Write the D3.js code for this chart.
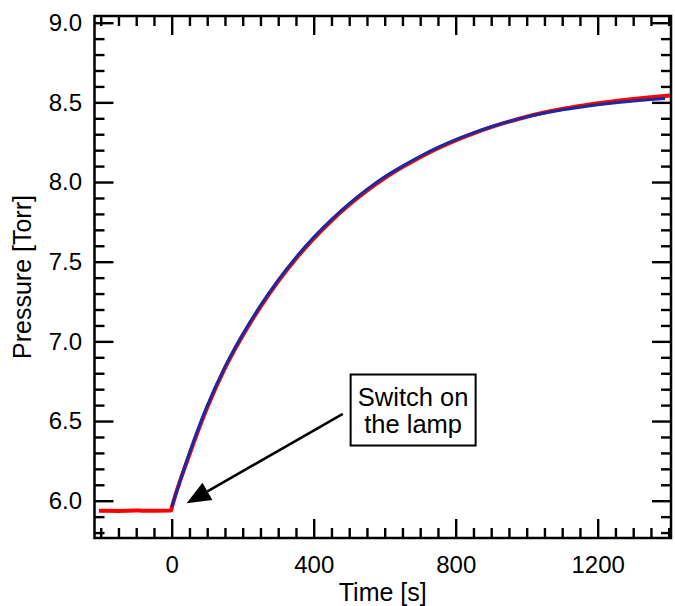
<!DOCTYPE html>
<html>
<head>
<meta charset="utf-8">
<script src="https://cdn.jsdelivr.net/npm/d3@7"></script>
<style>
  body { margin: 0; background: #fff; }
  svg text { font-family: "Liberation Sans", Arial, Helvetica, sans-serif; }
</style>
</head>
<body>
<svg id="chart" width="675" height="606"></svg>
<script>
// Measured pressure (red) - before and after the lamp is switched on
const dataTime = [-205, -150, -100, -50, -2, 0, 50, 100, 150, 200, 250, 300, 350, 400, 450, 500, 550, 600, 650, 700, 750, 800, 850, 900, 950, 1000, 1050, 1100, 1150, 1200, 1250, 1300, 1350, 1404];
const dataPressure = [5.937, 5.936, 5.938, 5.937, 5.938, 5.955, 6.29, 6.585, 6.832, 7.037, 7.217, 7.377, 7.519, 7.645, 7.757, 7.857, 7.946, 8.025, 8.094, 8.156, 8.212, 8.262, 8.306, 8.345, 8.379, 8.41, 8.436, 8.458, 8.477, 8.494, 8.508, 8.521, 8.532, 8.543];

// Fitted curve (blue)
const fitTime = [0, 50, 100, 150, 200, 250, 300, 350, 400, 450, 500, 550, 600, 650, 700, 750, 800, 850, 900, 950, 1000, 1050, 1100, 1150, 1200, 1250, 1300, 1350, 1390];
const fitPressure = [5.96, 6.30, 6.595, 6.84, 7.045, 7.225, 7.385, 7.527, 7.653, 7.765, 7.865, 7.954, 8.033, 8.10, 8.162, 8.217, 8.266, 8.309, 8.347, 8.38, 8.409, 8.433, 8.453, 8.47, 8.485, 8.498, 8.509, 8.518, 8.524];

// tick labels
const xTicks = [0, 400, 800, 1200];
const yTicks = [6.0, 6.5, 7.0, 7.5, 8.0, 8.5, 9.0];

const svg = d3.select("#chart");
const plotLeft = 94.5, plotRight = 671, plotTop = 16, plotBottom = 538;

const x = d3.scaleLinear().domain([-217.5, 1406.5]).range([plotLeft, plotRight]);
const y = d3.scaleLinear().domain([5.766, 9.042]).range([plotBottom, plotTop]);

const xMinor = d3.range(-200, 1401, 50).filter(d => !xTicks.includes(d));
const yMinor = d3.range(58, 91).map(d => d / 10).filter(d => !yTicks.includes(d));

// axes (ticks point inward, all four sides)
function styleAxis(g) {
  g.select(".domain").remove();
  g.selectAll(".tick line").attr("stroke", "#000").attr("stroke-width", 2.4);
  g.selectAll(".tick text").attr("fill", "#000").style("font-size", "24px");
}

svg.append("g").attr("transform", "translate(0," + plotBottom + ")")
  .call(d3.axisBottom(x).tickValues(xMinor).tickSize(-10).tickFormat("")).call(styleAxis);
svg.append("g").attr("transform", "translate(0," + plotBottom + ")")
  .call(d3.axisBottom(x).tickValues(xTicks).tickSize(-19).tickPadding(18).tickFormat(d3.format("d"))).call(styleAxis);
svg.append("g").attr("transform", "translate(0," + plotTop + ")")
  .call(d3.axisTop(x).tickValues(xMinor).tickSize(-10).tickFormat("")).call(styleAxis);
svg.append("g").attr("transform", "translate(0," + plotTop + ")")
  .call(d3.axisTop(x).tickValues(xTicks).tickSize(-19).tickFormat("")).call(styleAxis);

svg.append("g").attr("transform", "translate(" + plotLeft + ",0)")
  .call(d3.axisLeft(y).tickValues(yMinor).tickSize(-10).tickFormat("")).call(styleAxis);
svg.append("g").attr("transform", "translate(" + plotLeft + ",0)")
  .call(d3.axisLeft(y).tickValues(yTicks).tickSize(-19).tickPadding(12.5).tickFormat(d3.format(".1f"))).call(styleAxis);
svg.append("g").attr("transform", "translate(" + plotRight + ",0)")
  .call(d3.axisRight(y).tickValues(yMinor).tickSize(-10).tickFormat("")).call(styleAxis);
svg.append("g").attr("transform", "translate(" + plotRight + ",0)")
  .call(d3.axisRight(y).tickValues(yTicks).tickSize(-19).tickFormat("")).call(styleAxis);

// frame
svg.append("rect")
  .attr("x", plotLeft).attr("y", plotTop)
  .attr("width", plotRight - plotLeft).attr("height", plotBottom - plotTop)
  .attr("fill", "none").attr("stroke", "#000").attr("stroke-width", 2.5);

// lines
const measured = dataTime.map((t, i) => ({t: t, p: dataPressure[i]}));
const fitted = fitTime.map((t, i) => ({t: t, p: fitPressure[i]}));

const line = d3.line().x(d => x(d.t)).y(d => y(d.p)).curve(d3.curveMonotoneX);

svg.append("path")
  .datum(measured)
  .attr("fill", "none")
  .attr("stroke", "#ff0000")
  .attr("stroke-width", 4)
  .attr("d", line);

svg.append("path")
  .datum(fitted)
  .attr("fill", "none")
  .attr("stroke", "#1b2a9e")
  .attr("stroke-width", 3)
  .attr("d", line);

// axis titles
svg.append("text")
  .attr("x", (plotLeft + plotRight) / 2)
  .attr("y", 601)
  .attr("text-anchor", "middle")
  .style("font-size", "25px")
  .text("Time [s]");

svg.append("text")
  .attr("transform", "translate(31," + (plotTop + plotBottom) / 2 + ") rotate(-90)")
  .attr("text-anchor", "middle")
  .style("font-size", "25px")
  .text("Pressure [Torr]");

// annotation: arrow + box
const tip = {t: 42, p: 5.984};
const tail = {t: 482, p: 6.545};
const tx = x(tip.t), ty = y(tip.p), sx = x(tail.t), sy = y(tail.p);
const ang = Math.atan2(ty - sy, tx - sx);
const headLen = 24, headW = 10;
const bx = tx - headLen * Math.cos(ang), by = ty - headLen * Math.sin(ang);

svg.append("line")
  .attr("x1", sx).attr("y1", sy).attr("x2", bx).attr("y2", by)
  .attr("stroke", "#000").attr("stroke-width", 2.5);

svg.append("path")
  .attr("d", "M" + tx + "," + ty +
    "L" + (bx + headW * Math.sin(ang)) + "," + (by - headW * Math.cos(ang)) +
    "L" + (bx - headW * Math.sin(ang)) + "," + (by + headW * Math.cos(ang)) + "Z")
  .attr("fill", "#000");

const boxX = x(504), boxY = y(6.792), boxW = 125, boxH = 71;
svg.append("rect")
  .attr("x", boxX).attr("y", boxY)
  .attr("width", boxW).attr("height", boxH)
  .attr("fill", "#fff").attr("stroke", "#000").attr("stroke-width", 2);

const note = svg.append("text")
  .attr("text-anchor", "middle")
  .style("font-size", "25.5px");
note.append("tspan").attr("x", boxX + boxW / 2).attr("y", boxY + 31).text("Switch on");
note.append("tspan").attr("x", boxX + boxW / 2).attr("y", boxY + 58).text("the lamp");
</script>
</body>
</html>
